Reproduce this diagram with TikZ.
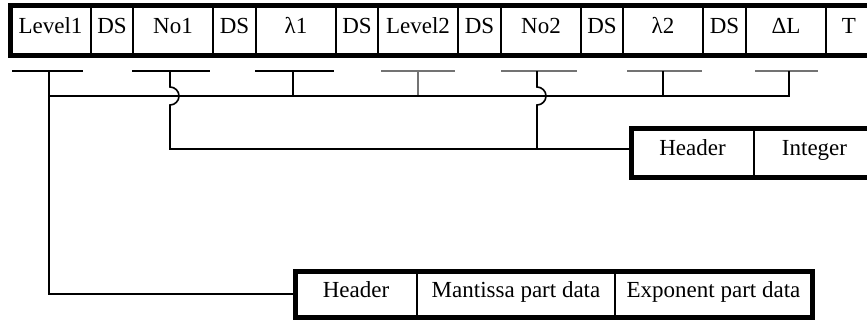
\documentclass[tikz,border=0pt]{standalone}
\usepackage{fontspec}
\setmainfont{Liberation Serif}
\begin{document}
\begin{tikzpicture}[x=1pt,y=-1pt,
  cell/.style={draw, line width=1.5pt, inner sep=0pt, outer sep=0pt,
    text height=0.66em, text depth=0pt, font=\fontsize{23}{27}\selectfont},
  topcell/.style={cell, minimum height=49.5pt},
  frame/.style={line width=5pt},
  bus/.style={line width=1.6pt},
  brk/.style={line width=1.6pt},
  gbrk/.style={line width=1.3pt, draw=black!55}]
\useasboundingbox (0,0) rectangle (867,322);
% top record
\node[topcell, minimum width=81pt] (t1) at (50.5,30.25) {Level1};
\node[topcell, minimum width=42pt] (t2) at (112,30.25) {DS};
\node[topcell, minimum width=80pt] (t3) at (173,30.25) {No1};
\node[topcell, minimum width=43pt] (t4) at (234.5,30.25) {DS};
\node[topcell, minimum width=80pt] (t5) at (296,30.25) {λ1};
\node[topcell, minimum width=42pt] (t6) at (357,30.25) {DS};
\node[topcell, minimum width=80pt] (t7) at (418,30.25) {Level2};
\node[topcell, minimum width=43pt] (t8) at (479.5,30.25) {DS};
\node[topcell, minimum width=80pt] (t9) at (541,30.25) {No2};
\node[topcell, minimum width=42pt] (t10) at (602,30.25) {DS};
\node[topcell, minimum width=80pt] (t11) at (663,30.25) {λ2};
\node[topcell, minimum width=43pt] (t12) at (724.5,30.25) {DS};
\node[topcell, minimum width=80pt] (t13) at (786,30.25) {ΔL};
\node[topcell, minimum width=46pt] (t14) at (849,30.25) {T};
\draw[frame] (t1.north west) rectangle (t14.south east);
% integer record
\node[cell, minimum height=49pt, minimum width=123pt] (ih) at (692.5,152.5) {Header};
\node[cell, minimum height=49pt, minimum width=121pt] (ii) at (814.5,152.5) {Integer};
\draw[frame] (ih.north west) rectangle (ii.south east);
% float record
\node[cell, minimum height=46pt, minimum width=122pt] (fh) at (356,294) {Header};
\node[cell, minimum height=46pt, minimum width=198pt] (fm) at (516,294) {Mantissa part data};
\node[cell, minimum height=46pt, minimum width=197pt] (fe) at (713.5,294) {Exponent part data};
\draw[frame] (fh.north west) rectangle (fe.south east);
% brackets
\coordinate (s1) at (49,71);
\coordinate (s2) at (170,71);
\coordinate (s3) at (293,71);
\coordinate (s4) at (418,71);
\coordinate (s5) at (537,71);
\coordinate (s6) at (663,71);
\coordinate (s7) at (789,71);
\draw[brk] (12,71) -- (83,71);
\draw[brk] (132,71) -- (210,71);
\draw[brk] (255,71) -- (334,71);
\draw[gbrk] (381,71) -- (455,71);
\draw[gbrk] (501,71) -- (577,71);
\draw[gbrk] (627,71) -- (702,71);
\draw[gbrk] (755,71) -- (818,71);
% bus for floats
\coordinate (b1) at (49,96);
\coordinate (b7) at (789,96);
\coordinate (iin) at (631,149);
\draw[bus] (s3) -- (s3 |- b1);
\draw[gbrk, line width=1.3pt] (s4) -- (s4 |- b1);
\draw[bus] (s6) -- (s6 |- b1);
\draw[bus] (s7) -- (b7) -- (b1);
\draw[bus] (s1) |- (fh.west);
% integer connectors with hops
\draw[bus] (s2) -- (170,87) arc[start angle=90, end angle=-90, radius=9pt] -- (170,149) -- (iin);
\draw[bus] (s5) -- (537,87) arc[start angle=90, end angle=-90, radius=9pt] -- (537,149);
\end{tikzpicture}
\end{document}
